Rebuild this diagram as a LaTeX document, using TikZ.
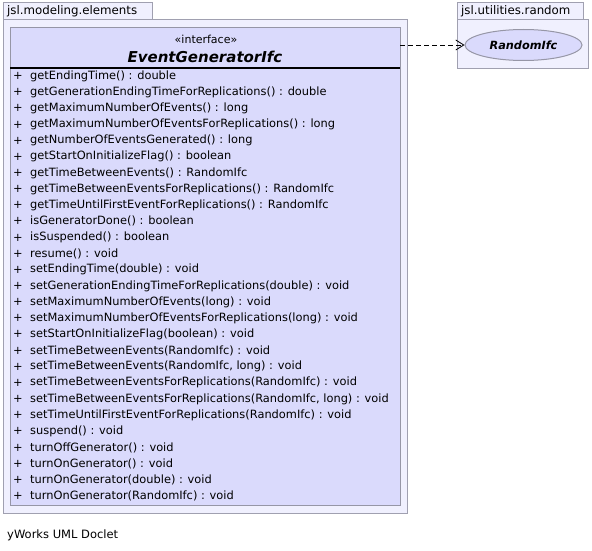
\documentclass[tikz,border=0pt]{standalone}
\usepackage{fontspec}
\setmainfont{DejaVu Sans}
\usetikzlibrary{arrows.meta,shapes.geometric}
\definecolor{pkgfill}{RGB}{240,240,254}
\definecolor{pkgline}{RGB}{160,160,176}
\definecolor{clsfill}{RGB}{218,218,252}
\definecolor{clsline}{RGB}{150,150,166}
\tikzset{
  pkgtab/.style={draw=pkgline, fill=pkgfill, line width=1pt},
  pkgbody/.style={draw=pkgline, fill=pkgfill, line width=1pt},
  clsbox/.style={draw=clsline, fill=clsfill, line width=1pt},
  pkglabel/.style={anchor=west, inner sep=0pt, font=\fontsize{11.8}{13}\selectfont},
  member/.style={anchor=west, inner sep=0pt, font=\fontsize{11.4}{13}\selectfont},
  dep/.style={dashed, dash pattern=on 5pt off 3pt, line width=0.8pt, -{Straight Barb[length=8pt,width=10pt]}}
}
\begin{document}
\begin{tikzpicture}[x=1pt,y=-1pt]
\useasboundingbox (0,0) rectangle (592,551);
\fill[white] (0,0) rectangle (592,551);
% package 1
\draw[pkgtab] (3,3) rectangle (152,20);
\draw[pkgbody] (3,20) rectangle (407,513);
\node[pkglabel] (p1) at (7,11.5) {jsl.modeling.elements};
% class
\draw[clsbox] (10,28) rectangle (400,505);
\node[anchor=center, inner sep=0pt, font=\fontsize{11}{12}\selectfont] (st) at (206,39.5) {«interface»};
\node[anchor=center, inner sep=0pt, font=\bfseries\itshape\fontsize{15}{17}\selectfont] (cn) at (205,57) {EventGeneratorIfc};
\draw[line width=1.8pt] (10,68) -- (400,68);
\coordinate (cls) at (400,45);
\foreach \m [count=\i from 0] in {
 getEndingTime() : double,
 getGenerationEndingTimeForReplications() : double,
 getMaximumNumberOfEvents() : long,
 getMaximumNumberOfEventsForReplications() : long,
 getNumberOfEventsGenerated() : long,
 getStartOnInitializeFlag() : boolean,
 getTimeBetweenEvents() : RandomIfc,
 getTimeBetweenEventsForReplications() : RandomIfc,
 getTimeUntilFirstEventForReplications() : RandomIfc,
 isGeneratorDone() : boolean,
 isSuspended() : boolean,
 resume() : void,
 setEndingTime(double) : void,
 setGenerationEndingTimeForReplications(double) : void,
 setMaximumNumberOfEvents(long) : void,
 setMaximumNumberOfEventsForReplications(long) : void,
 setStartOnInitializeFlag(boolean) : void,
 setTimeBetweenEvents(RandomIfc) : void,
 {setTimeBetweenEvents(RandomIfc, long) : void},
 setTimeBetweenEventsForReplications(RandomIfc) : void,
 {setTimeBetweenEventsForReplications(RandomIfc, long) : void},
 setTimeUntilFirstEventForReplications(RandomIfc) : void,
 suspend() : void,
 turnOffGenerator() : void,
 turnOnGenerator() : void,
 turnOnGenerator(double) : void,
 turnOnGenerator(RandomIfc) : void
}{
  \node[member] (plus\i) at (13,{76+\i*16.15}) {+};
  \node[member] (m\i) at (30,{76+\i*16.15}) {\m};
}
% package 2
\draw[pkgtab] (457,3) rectangle (583,20);
\draw[pkgbody] (457,20) rectangle (588,69);
\node[pkglabel] (p2) at (461,11.5) {jsl.utilities.random};
\node[ellipse, draw=clsline, fill=clsfill, line width=1pt, minimum width=117pt, minimum height=31pt, inner sep=0pt, font=\bfseries\itshape\fontsize{11.3}{13}\selectfont] (ri) at (523.5,45) {RandomIfc};
\draw[dep] (cls) -- (ri);
\node[anchor=west, inner sep=0pt, font=\fontsize{11.5}{13}\selectfont] (yw) at (7,535) {yWorks UML Doclet};
\end{tikzpicture}
\end{document}
